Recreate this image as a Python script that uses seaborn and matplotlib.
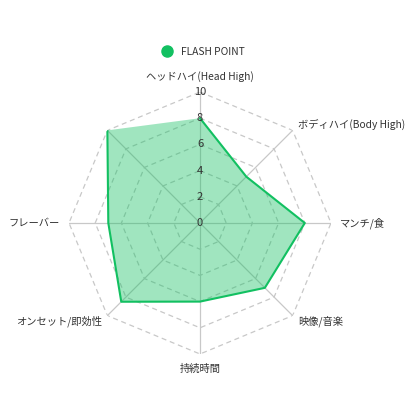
import numpy as np
import seaborn as sns
import matplotlib.pyplot as plt
from matplotlib.lines import Line2D

categories = ['ヘッドハイ(Head High)', 'ボディハイ(Body High)', 'マンチ/食', '映像/音楽',
              '持続時間', 'オンセット/即効性', 'フレーバー', '']
values = [8, 5, 8, 7, 6, 8.5, 7, 10]
ticks = [0, 2, 4, 6, 8, 10]
series_name = 'FLASH POINT'

sns.set_theme(style='white')
plt.rcParams['font.family'] = ['Noto Sans CJK JP', 'DejaVu Sans']

green = '#12c061'
grid_c = '#c8c8c8'
text_c = '#333333'

n = len(categories)
theta = np.linspace(0, 2 * np.pi, n, endpoint=False)

fig = plt.figure(figsize=(4.16, 4.16), dpi=100)
cx, cy, rad = 200 / 416, 1 - 223 / 416, 131 / 416
ax = fig.add_axes([cx - rad, cy - rad, 2 * rad, 2 * rad], projection='polar')
ax.set_theta_offset(np.pi / 2)
ax.set_theta_direction(-1)
ax.set_ylim(0, 10)
ax.grid(False)
ax.set_xticks([])
ax.set_yticks([])
ax.spines['polar'].set_visible(False)
ax.set_facecolor('none')

# polygon rings and spokes
t_closed = np.append(theta, theta[0])
for r in ticks[1:]:
    ax.plot(t_closed, [r] * (n + 1), color=grid_c, lw=0.9, ls=(0, (4, 3)), zorder=1)
for t in theta:
    ax.plot([t, t], [0, 10], color=grid_c, lw=0.9, zorder=1)

# data
v_closed = np.append(values, values[0])
ax.fill(t_closed, v_closed, color=green, alpha=0.4, lw=0, zorder=2)
sns.lineplot(x=t_closed, y=v_closed, sort=False, ax=ax, color=green, lw=1.5, zorder=3)

# tick labels on top spoke
for r in ticks:
    ax.text(0, r, str(r), ha='center', va='center', fontsize=8, color=text_c, zorder=4)

# axis labels
label_pos = [
    (11.2, 'center', 'center'),
    (10.6, 'left', 'center'),
    (10.7, 'left', 'center'),
    (10.6, 'left', 'center'),
    (11.1, 'center', 'center'),
    (10.6, 'right', 'center'),
    (10.7, 'right', 'center'),
    (10.6, 'right', 'center'),
]
for t, lab, (r, ha, va) in zip(theta, categories, label_pos):
    ax.text(t, r, lab, ha=ha, va=va, fontsize=7.4, color=text_c, clip_on=False)

handle = Line2D([], [], marker='o', ls='', color=green, markersize=8)
fig.legend([handle], [series_name], loc='center', bbox_to_anchor=(0.482, 1 - 52 / 416),
           frameon=False, fontsize=7.4, handletextpad=0.4, labelcolor=text_c)

fig.savefig('out.png', dpi=100, facecolor='white')
